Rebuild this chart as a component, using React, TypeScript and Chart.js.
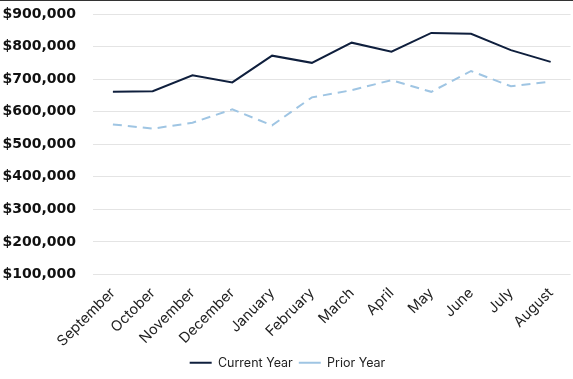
import React, { useEffect, useRef } from "react";
import { Chart, registerables } from "chart.js";

Chart.register(...registerables);

const months = ["September", "October", "November", "December", "January", "February", "March", "April", "May", "June", "July", "August"];
const currentYear = [661000, 663000, 712000, 690000, 772000, 750000, 812000, 784000, 842000, 839000, 789000, 753000];
const priorYear = [561000, 548000, 566000, 607000, 558000, 644000, 666000, 697000, 661000, 725000, 678000, 692000];

export default function App() {
  const ref = useRef<HTMLCanvasElement | null>(null);
  useEffect(() => {
    if (!ref.current) return;
    const chart = new Chart(ref.current, {
      type: "line",
      data: {
        labels: months,
        datasets: [
          {
            label: "Current Year",
            data: currentYear,
            borderColor: "#0f1f3d",
            backgroundColor: "#0f1f3d",
            borderWidth: 2,
            pointRadius: 0,
            tension: 0,
          },
          {
            label: "Prior Year",
            data: priorYear,
            borderColor: "#9fc5e3",
            backgroundColor: "#9fc5e3",
            borderWidth: 2,
            borderDash: [9, 6],
            pointRadius: 0,
            tension: 0,
          },
        ],
      },
      options: {
        animation: false,
        responsive: false,
        maintainAspectRatio: false,
        layout: { padding: { top: 13, right: 1, left: 3, bottom: 0 } },
        plugins: {
          tooltip: { enabled: false },
          legend: {
            position: "bottom",
            labels: {
              usePointStyle: true,
              pointStyle: "line",
              pointStyleWidth: 22,
              boxHeight: 2,
              color: "#222",
              font: { family: "Inter", size: 12.5 },
              padding: 6,
            },
          },
        },
        scales: {
          x: {
            offset: true,
            grid: { display: false, drawTicks: false },
            border: { display: false },
            afterFit: (s: any) => {
              s.height = 76;
            },
            ticks: {
              maxRotation: 45,
              minRotation: 45,
              color: "#222",
              font: { family: "Inter", size: 14.5 },
              padding: 10,
            },
          },
          y: {
            min: 100000,
            max: 900000,
            grid: { color: "#e4e4e4", drawTicks: false },
            border: { display: false },
            afterFit: (s: any) => {
              s.width = 90;
              s.paddingTop = 9;
              s.paddingBottom = 9;
            },
            ticks: {
              stepSize: 100000,
              color: "#111",
              padding: 17,
              font: { family: "DejaVu Sans", size: 14, weight: "bold" },
              callback: (v: any) => "$" + Number(v).toLocaleString("en-US"),
            },
          },
        },
      },
    });
    return () => chart.destroy();
  }, []);
  return (
    <div style={{ position: "fixed", left: 0, top: 0, width: 573, height: 379, background: "#fff", borderTop: "1px solid #333", boxSizing: "border-box" }}>
      <canvas ref={ref} width={573} height={378} style={{ display: "block" }} />
    </div>
  );
}
